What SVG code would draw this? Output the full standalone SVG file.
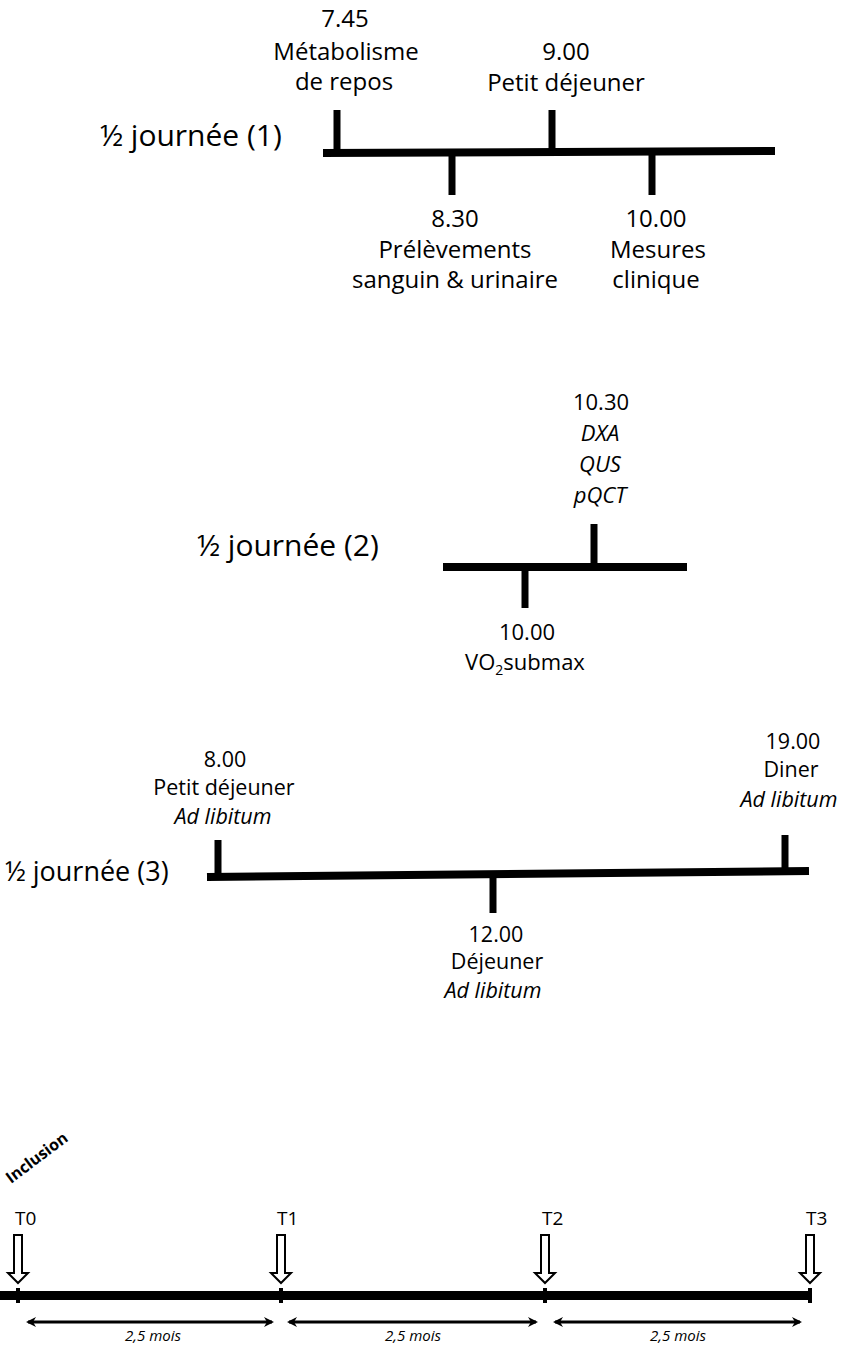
<svg xmlns="http://www.w3.org/2000/svg" width="845" height="1352" viewBox="0 0 845 1352">
<style>
text{font-family:"Open Sans","Liberation Sans",sans-serif;fill:#000}
.s1{font-size:24px;text-anchor:middle}
.s2{font-size:22px;text-anchor:middle}
.s3{font-size:21.5px;text-anchor:middle}
.lab{font-size:30px}
.it{font-style:italic}
.bar{stroke:#000;stroke-width:8;fill:none}
.tick{stroke:#000;stroke-width:7;fill:none}
.tl{font-size:19px}
.mo{font-size:15px;font-style:italic;text-anchor:middle}
.dbl{stroke:#000;stroke-width:3;fill:none;marker-start:url(#ah);marker-end:url(#ah)}
.harrow{fill:#fff;stroke:#000;stroke-width:2}
</style>
<defs>
<marker id="ah" viewBox="0 0 12 12" refX="9" refY="6" markerWidth="12" markerHeight="12" markerUnits="userSpaceOnUse" orient="auto-start-reverse">
<path d="M1,1 L11,6 L1,11 L4,6 Z" fill="#000"/>
</marker>
</defs>

<g id="day1">
<text class="lab" x="100" y="146">½ journée (1)</text>
<g id="connectors1">
<line class="bar" x1="323" y1="153" x2="775" y2="151"/>
<line class="tick" x1="337" y1="110" x2="337" y2="153"/>
<line class="tick" x1="452" y1="152" x2="452" y2="195"/>
<line class="tick" x1="552" y1="110" x2="552" y2="152"/>
<line class="tick" x1="652" y1="151" x2="652" y2="195"/>
</g>
<g id="n745">
<text class="s1" x="345" y="27">7.45</text>
<text class="s1" x="346" y="60">Métabolisme</text>
<text class="s1" x="344" y="90">de repos</text>
</g>
<g id="n900">
<text class="s1" x="566" y="60">9.00</text>
<text class="s1" x="566" y="91">Petit déjeuner</text>
</g>
<g id="n830">
<text class="s1" x="455" y="227">8.30</text>
<text class="s1" x="455" y="258">Prélèvements</text>
<text class="s1" x="455" y="288">sanguin &amp; urinaire</text>
</g>
<g id="n1000">
<text class="s1" x="656" y="227">10.00</text>
<text class="s1" x="658" y="258">Mesures</text>
<text class="s1" x="656" y="288">clinique</text>
</g>
</g>

<g id="day2">
<text class="lab" x="197" y="556">½ journée (2)</text>
<g id="connectors2">
<line class="bar" x1="443" y1="567" x2="687" y2="567"/>
<line class="tick" x1="594" y1="524" x2="594" y2="567"/>
<line class="tick" x1="525" y1="567" x2="525" y2="608"/>
</g>
<g id="n1030">
<text class="s2" x="601" y="410">10.30</text>
<text class="s2 it" x="600" y="441">DXA</text>
<text class="s2 it" x="600" y="472">QUS</text>
<text class="s2 it" x="600" y="503">pQCT</text>
</g>
<g id="n1000b">
<text class="s2" x="527" y="640">10.00</text>
<text class="s2" x="525" y="670">VO<tspan font-size="14" dy="5">2</tspan><tspan dy="-5">submax</tspan></text>
</g>
</g>

<g id="day3">
<text class="lab" x="5" y="881" style="font-size:27px">½ journée (3)</text>
<g id="connectors3">
<line class="bar" x1="207" y1="877" x2="809" y2="871"/>
<line class="tick" x1="218" y1="840" x2="218" y2="877"/>
<line class="tick" x1="493" y1="874" x2="493" y2="913"/>
<line class="tick" x1="785" y1="835" x2="785" y2="872"/>
</g>
<g id="n800">
<text class="s3" x="225" y="767">8.00</text>
<text class="s3" x="224" y="795">Petit déjeuner</text>
<text class="s3 it" x="223" y="824">Ad libitum</text>
</g>
<g id="n1200">
<text class="s3" x="496" y="942">12.00</text>
<text class="s3" x="497" y="969">Déjeuner</text>
<text class="s3 it" x="493" y="998">Ad libitum</text>
</g>
<g id="n1900">
<text class="s3" x="793" y="749">19.00</text>
<text class="s3" x="791" y="777">Diner</text>
<text class="s3 it" x="789" y="807">Ad libitum</text>
</g>
</g>

<g id="study">
<text x="11" y="1184" font-size="16" font-weight="bold" transform="rotate(-37 11 1184)">Inclusion</text>
<g id="timeline">
<rect x="0" y="1291" width="812" height="9" fill="#000"/>
<rect x="16" y="1288" width="4" height="15" fill="#000"/>
<rect x="279" y="1288" width="4" height="15" fill="#000"/>
<rect x="543" y="1288" width="4" height="15" fill="#000"/>
<rect x="808" y="1288" width="4" height="15" fill="#000"/>
</g>
<g id="T0">
<text class="tl" x="15" y="1225">T0</text>
<path class="harrow" d="M14,1235 H22 V1273 H28 L18,1283 L8,1273 H14 Z"/>
</g>
<g id="T1">
<text class="tl" x="277" y="1225">T1</text>
<path class="harrow" d="M277,1235 H285 V1273 H291 L281,1283 L271,1273 H277 Z"/>
</g>
<g id="T2">
<text class="tl" x="542" y="1225">T2</text>
<path class="harrow" d="M541,1235 H549 V1273 H555 L545,1283 L535,1273 H541 Z"/>
</g>
<g id="T3">
<text class="tl" x="806" y="1225">T3</text>
<path class="harrow" d="M806,1235 H814 V1273 H820 L810,1283 L800,1273 H806 Z"/>
</g>
<g id="durations">
<line class="dbl" x1="28" y1="1322" x2="272" y2="1322"/>
<line class="dbl" x1="289" y1="1322" x2="536" y2="1322"/>
<line class="dbl" x1="555" y1="1322" x2="800" y2="1322"/>
<text class="mo" x="153" y="1341">2,5 mois</text>
<text class="mo" x="413" y="1341">2,5 mois</text>
<text class="mo" x="678" y="1341">2,5 mois</text>
</g>
</g>
</svg>
